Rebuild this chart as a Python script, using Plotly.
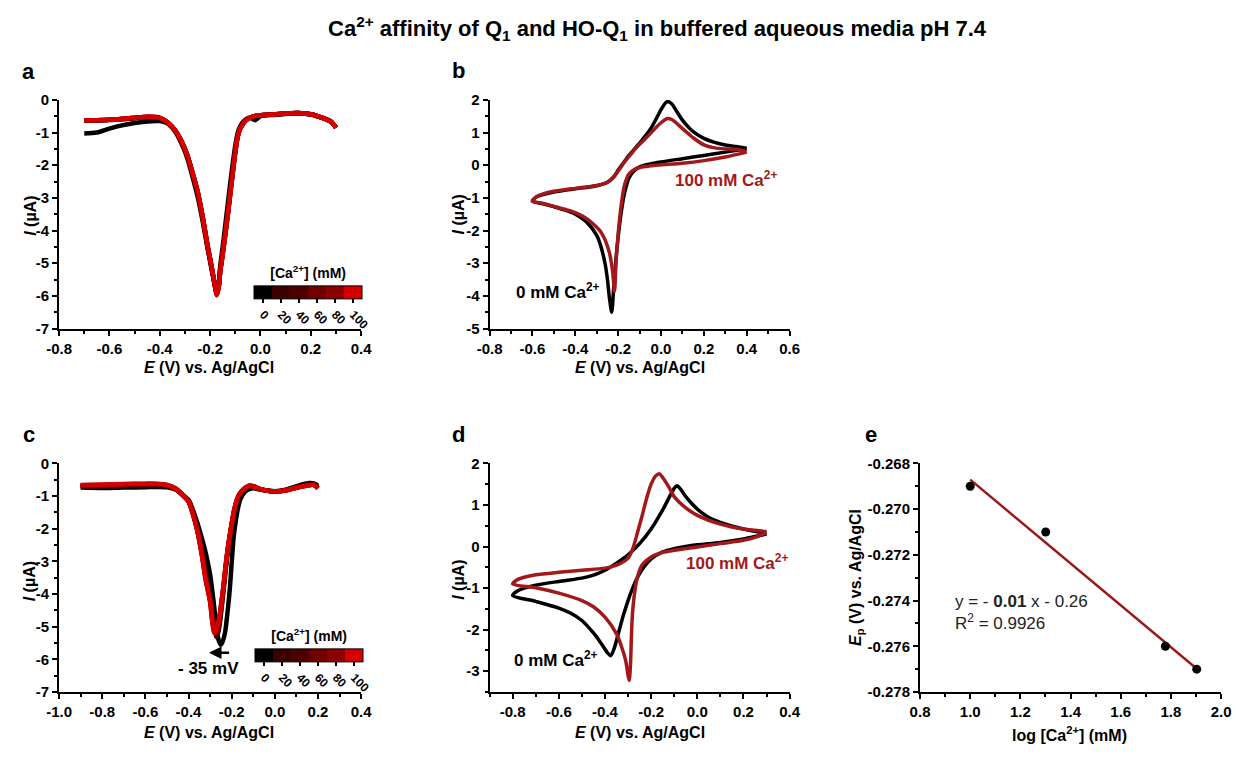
import numpy as np
import plotly.graph_objects as go

# page is 1252x760; the html body keeps its default 8px margin
PAGE_W, PAGE_H, BODY = 1252, 760, 8
W, H = PAGE_W - 2 * BODY, PAGE_H - 2 * BODY
FONT = "Liberation Sans, Arial, sans-serif"

# ---------------- concentrations and their colours ----------------
conc = [0, 20, 40, 60, 80, 100]
conc_colors = ["#000000", "#3b0000", "#4d0000", "#700000", "#8e0000", "#d40000"]
cv_red = "#a3191b"

# ---------------- panel a: SWV of Q1 ----------------
E_a = [-0.70, -0.65, -0.60, -0.55, -0.50, -0.45, -0.40, -0.37, -0.34, -0.31,
       -0.29, -0.27, -0.25, -0.23, -0.21, -0.20, -0.19, -0.18, -0.173, -0.165,
       -0.16, -0.15, -0.14, -0.13, -0.12, -0.11, -0.10, -0.09, -0.08, -0.06,
       -0.04, -0.02, 0.00, 0.05, 0.10, 0.15, 0.20, 0.25, 0.28, 0.30]
I_a_0 = [-1.03, -1.00, -0.88, -0.78, -0.71, -0.66, -0.65, -0.72, -0.96, -1.40,
         -1.80, -2.35, -2.95, -3.70, -4.55, -4.95, -5.35, -5.70, -5.85, -5.55,
         -5.10, -4.50, -3.85, -3.20, -2.55, -1.95, -1.40, -1.00, -0.80, -0.60,
         -0.55, -0.62, -0.50, -0.46, -0.43, -0.41, -0.45, -0.57, -0.67, -0.84]
I_a_20 = [-0.64, -0.63, -0.62, -0.59, -0.56, -0.53, -0.56, -0.69, -0.93, -1.34,
          -1.73, -2.26, -2.83, -3.60, -4.50, -4.90, -5.31, -5.72, -5.92, -5.64,
          -5.22, -4.68, -4.07, -3.46, -2.81, -2.16, -1.55, -1.08, -0.86, -0.63,
          -0.54, -0.50, -0.48, -0.45, -0.42, -0.40, -0.44, -0.56, -0.66, -0.85]
I_a_40 = [-0.63, -0.63, -0.61, -0.59, -0.56, -0.53, -0.56, -0.69, -0.93, -1.33,
          -1.72, -2.24, -2.81, -3.58, -4.48, -4.88, -5.30, -5.73, -5.94, -5.66,
          -5.24, -4.70, -4.10, -3.50, -2.85, -2.20, -1.58, -1.10, -0.87, -0.63,
          -0.54, -0.49, -0.47, -0.45, -0.42, -0.40, -0.44, -0.56, -0.66, -0.85]
I_a_60 = [-0.63, -0.62, -0.61, -0.58, -0.55, -0.52, -0.55, -0.68, -0.92, -1.33,
          -1.71, -2.23, -2.80, -3.57, -4.47, -4.87, -5.29, -5.73, -5.96, -5.68,
          -5.26, -4.72, -4.12, -3.52, -2.87, -2.22, -1.60, -1.11, -0.87, -0.64,
          -0.54, -0.49, -0.47, -0.45, -0.42, -0.40, -0.44, -0.56, -0.66, -0.85]
I_a_80 = [-0.62, -0.62, -0.61, -0.58, -0.55, -0.52, -0.55, -0.68, -0.92, -1.32,
          -1.70, -2.22, -2.79, -3.56, -4.46, -4.86, -5.28, -5.72, -5.97, -5.69,
          -5.27, -4.74, -4.14, -3.54, -2.89, -2.24, -1.61, -1.12, -0.88, -0.64,
          -0.54, -0.49, -0.47, -0.45, -0.42, -0.40, -0.44, -0.56, -0.66, -0.85]
I_a_100 = [-0.62, -0.62, -0.61, -0.58, -0.55, -0.52, -0.55, -0.68, -0.92, -1.32,
           -1.70, -2.22, -2.78, -3.55, -4.45, -4.85, -5.28, -5.72, -5.98, -5.70,
           -5.28, -4.75, -4.15, -3.55, -2.90, -2.25, -1.62, -1.12, -0.88, -0.64,
           -0.54, -0.49, -0.47, -0.45, -0.42, -0.40, -0.44, -0.56, -0.66, -0.85]
I_a = [I_a_0, I_a_20, I_a_40, I_a_60, I_a_80, I_a_100]

# ---------------- panel b: CV of Q1 (0 and 100 mM Ca2+) ----------------
E_b_0 = [0.40, 0.30, 0.20, 0.10, 0.00, -0.05, -0.10, -0.13, -0.15, -0.17,
         -0.18, -0.19, -0.20, -0.21, -0.22, -0.23, -0.24, -0.25, -0.26, -0.28,
         -0.30, -0.35, -0.40, -0.45, -0.50, -0.55, -0.60,
         -0.58, -0.55, -0.50, -0.45, -0.40, -0.35, -0.30, -0.25, -0.22, -0.20,
         -0.17, -0.15, -0.12, -0.10, -0.07, -0.05, -0.02, 0.00, 0.02, 0.03,
         0.05, 0.07, 0.10, 0.13, 0.15, 0.20, 0.25, 0.30, 0.35, 0.40]
I_b_0 = [0.50, 0.40, 0.30, 0.20, 0.10, 0.04, -0.05, -0.20, -0.40, -0.85,
         -1.20, -1.65, -2.20, -2.85, -3.65, -4.50, -4.10, -3.50, -3.05, -2.50,
         -2.15, -1.72, -1.50, -1.37, -1.27, -1.18, -1.10,
         -0.97, -0.90, -0.82, -0.77, -0.72, -0.68, -0.63, -0.52, -0.35, -0.15,
         0.12, 0.30, 0.52, 0.68, 0.92, 1.10, 1.45, 1.70, 1.90, 1.95,
         1.88, 1.68, 1.38, 1.15, 1.03, 0.82, 0.70, 0.62, 0.57, 0.52]
E_b_100 = [0.40, 0.30, 0.20, 0.10, 0.00, -0.05, -0.10, -0.13, -0.15, -0.17,
           -0.18, -0.19, -0.20, -0.21, -0.217, -0.225, -0.24, -0.26, -0.28, -0.30,
           -0.35, -0.40, -0.45, -0.50, -0.55, -0.60,
           -0.58, -0.55, -0.50, -0.45, -0.40, -0.35, -0.30, -0.25, -0.22, -0.20,
           -0.17, -0.15, -0.12, -0.10, -0.07, -0.05, -0.02, 0.00, 0.02, 0.03,
           0.05, 0.07, 0.10, 0.13, 0.15, 0.20, 0.25, 0.30, 0.35, 0.40]
I_b_100 = [0.40, 0.25, 0.14, 0.06, 0.01, -0.02, -0.07, -0.15, -0.27, -0.60,
           -0.95, -1.45, -2.10, -3.00, -3.86, -3.30, -2.70, -2.30, -2.05, -1.90,
           -1.62, -1.45, -1.35, -1.26, -1.17, -1.10,
           -0.96, -0.88, -0.80, -0.75, -0.71, -0.67, -0.62, -0.52, -0.36, -0.18,
           0.10, 0.26, 0.50, 0.64, 0.83, 0.97, 1.18, 1.30, 1.40, 1.43,
           1.40, 1.30, 1.12, 0.95, 0.84, 0.62, 0.53, 0.50, 0.49, 0.42]

# ---------------- panel c: SWV of HO-Q1 ----------------
E_c = [-0.90, -0.80, -0.70, -0.60, -0.55, -0.50, -0.46, -0.43, -0.40, -0.38,
       -0.36, -0.34, -0.32, -0.30, -0.29, -0.28, -0.27, -0.26, -0.25, -0.24,
       -0.23, -0.22, -0.21, -0.20, -0.19, -0.18, -0.17, -0.16, -0.14, -0.12,
       -0.10, -0.07, -0.04, 0.00, 0.04, 0.08, 0.12, 0.16, 0.18, 0.20]
I_c_0 = [-0.74, -0.75, -0.74, -0.73, -0.72, -0.73, -0.80, -0.95, -1.12, -1.42,
         -1.80, -2.25, -2.75, -3.40, -3.90, -4.45, -5.10, -5.42, -5.55, -5.42,
         -5.15, -4.60, -3.95, -3.05, -2.20, -1.72, -1.35, -1.10, -0.88, -0.79,
         -0.76, -0.80, -0.83, -0.85, -0.82, -0.74, -0.66, -0.60, -0.61, -0.68]
I_c_20 = [-0.71, -0.71, -0.70, -0.69, -0.68, -0.70, -0.79, -0.95, -1.15, -1.50,
          -1.97, -2.58, -3.30, -4.00, -4.50, -5.00, -5.32, -5.12, -4.65, -4.05,
          -3.42, -2.82, -2.32, -1.90, -1.53, -1.25, -1.06, -0.94, -0.80, -0.72,
          -0.72, -0.79, -0.83, -0.85, -0.83, -0.76, -0.69, -0.63, -0.63, -0.72]
I_c_40 = [-0.69, -0.69, -0.67, -0.66, -0.66, -0.68, -0.78, -0.95, -1.16, -1.52,
          -2.01, -2.66, -3.45, -4.12, -4.65, -5.10, -5.25, -5.00, -4.52, -3.95,
          -3.35, -2.76, -2.29, -1.88, -1.51, -1.23, -1.04, -0.92, -0.78, -0.70,
          -0.71, -0.79, -0.83, -0.86, -0.84, -0.77, -0.70, -0.65, -0.65, -0.75]
I_c_60 = [-0.68, -0.67, -0.65, -0.64, -0.64, -0.67, -0.77, -0.95, -1.16, -1.53,
          -2.03, -2.70, -3.52, -4.18, -4.74, -5.15, -5.18, -4.90, -4.45, -3.90,
          -3.30, -2.73, -2.27, -1.86, -1.49, -1.21, -1.03, -0.91, -0.77, -0.69,
          -0.70, -0.78, -0.83, -0.86, -0.84, -0.78, -0.71, -0.66, -0.66, -0.76]
I_c_80 = [-0.67, -0.66, -0.64, -0.63, -0.63, -0.66, -0.77, -0.95, -1.17, -1.54,
          -2.04, -2.72, -3.56, -4.22, -4.80, -5.18, -5.10, -4.85, -4.40, -3.87,
          -3.27, -2.71, -2.26, -1.85, -1.48, -1.20, -1.02, -0.90, -0.76, -0.68,
          -0.70, -0.78, -0.83, -0.86, -0.84, -0.78, -0.72, -0.67, -0.66, -0.77]
I_c_100 = [-0.66, -0.65, -0.63, -0.62, -0.62, -0.66, -0.78, -0.95, -1.17, -1.55,
           -2.05, -2.75, -3.60, -4.25, -4.85, -5.20, -5.05, -4.80, -4.35, -3.85,
           -3.25, -2.70, -2.25, -1.85, -1.48, -1.20, -1.02, -0.90, -0.76, -0.68,
           -0.70, -0.78, -0.83, -0.86, -0.84, -0.78, -0.72, -0.67, -0.66, -0.77]
I_c = [I_c_0, I_c_20, I_c_40, I_c_60, I_c_80, I_c_100]

# ---------------- panel d: CV of HO-Q1 (0 and 100 mM Ca2+) ----------------
E_d_0 = [0.30, 0.25, 0.20, 0.10, 0.00, -0.05, -0.10, -0.15, -0.20, -0.25,
         -0.28, -0.30, -0.32, -0.34, -0.36, -0.375, -0.39, -0.42, -0.45, -0.50,
         -0.55, -0.60, -0.70, -0.80,
         -0.78, -0.75, -0.70, -0.60, -0.50, -0.45, -0.40, -0.35, -0.30, -0.25,
         -0.20, -0.15, -0.12, -0.10, -0.088, -0.07, -0.05, 0.00, 0.05, 0.10,
         0.20, 0.30]
I_d_0 = [0.30, 0.24, 0.18, 0.10, 0.04, 0.00, -0.05, -0.13, -0.30, -0.65,
         -1.00, -1.30, -1.65, -2.05, -2.45, -2.63, -2.55, -2.30, -2.08, -1.78,
         -1.60, -1.48, -1.32, -1.18,
         -1.07, -1.00, -0.93, -0.84, -0.76, -0.69, -0.57, -0.40, -0.20, 0.07,
         0.42, 0.88, 1.20, 1.40, 1.46, 1.36, 1.20, 0.90, 0.70, 0.58,
         0.42, 0.32]
E_d_100 = [0.30, 0.25, 0.20, 0.10, 0.00, -0.10, -0.15, -0.20, -0.24, -0.26,
           -0.27, -0.28, -0.285, -0.29, -0.295, -0.30, -0.31, -0.33, -0.35, -0.40,
           -0.45, -0.50, -0.60, -0.70, -0.80,
           -0.78, -0.75, -0.70, -0.60, -0.50, -0.40, -0.35, -0.30, -0.28, -0.26,
           -0.24, -0.22, -0.20, -0.18, -0.165, -0.15, -0.12, -0.10, -0.05, 0.00,
           0.10, 0.20, 0.30]
I_d_100 = [0.34, 0.22, 0.15, 0.07, -0.01, -0.09, -0.14, -0.25, -0.45, -0.75,
           -1.05, -1.55, -2.10, -2.90, -3.22, -3.10, -2.75, -2.38, -2.10, -1.70,
           -1.45, -1.30, -1.12, -0.99, -0.90,
           -0.80, -0.74, -0.68, -0.62, -0.57, -0.52, -0.45, -0.28, -0.06, 0.32,
           0.72, 1.15, 1.50, 1.70, 1.75, 1.66, 1.40, 1.20, 0.93, 0.75,
           0.54, 0.42, 0.36]

# ---------------- panel e: peak potential vs log[Ca2+] ----------------
log_ca = [1.0, 1.301, 1.778, 1.903]
Ep = [-0.269, -0.271, -0.276, -0.277]

# ---------------- tick labels ----------------
xt_a = [-0.8, -0.6, -0.4, -0.2, 0.0, 0.2, 0.4]
xt_b = [-0.8, -0.6, -0.4, -0.2, 0.0, 0.2, 0.4, 0.6]
xt_c = [-1.0, -0.8, -0.6, -0.4, -0.2, 0.0, 0.2, 0.4]
xt_d = [-0.8, -0.6, -0.4, -0.2, 0.0, 0.2, 0.4]
xt_e = [0.8, 1.0, 1.2, 1.4, 1.6, 1.8, 2.0]
yt_swv = [0, -1, -2, -3, -4, -5, -6, -7]
yt_b = [2, 1, 0, -1, -2, -3, -4, -5]
yt_d = [2, 1, 0, -1, -2, -3]
yt_e = [-0.268, -0.270, -0.272, -0.274, -0.276, -0.278]


def fmt(vals, nd):
    return [f"{v:.{nd}f}" for v in vals]


def px(x):
    # page pixel -> paper fraction
    return (x - BODY) / W


def py(y):
    return 1 - (y - BODY) / H


def axis(domain, rng, vals, texts, minor_dtick, anchor):
    return dict(
        domain=domain, range=rng, anchor=anchor,
        tickmode="array", tickvals=vals, ticktext=texts,
        showline=True, linewidth=2, linecolor="black",
        ticks="outside", ticklen=5, tickwidth=1.5, tickcolor="black",
        minor=dict(ticks="outside", ticklen=3, tickwidth=1.5, tickcolor="black",
                   tick0=0, dtick=minor_dtick, showgrid=False),
        showgrid=False, zeroline=False, fixedrange=True,
        tickfont=dict(family=FONT, size=15, color="black", weight="bold"),
    )


colx = [(px(55), px(363)), (px(494), px(800)), (px(933), px(1240))]
row1 = (py(335), py(101))
row2 = (py(707), py(473))

SWV_W = 4.5
CV_W = 3.5

fig = go.Figure()

# panel a curves
for c, col, I in zip(conc, conc_colors, I_a):
    fig.add_trace(go.Scatter(x=E_a, y=I, mode="lines", xaxis="x", yaxis="y",
                             line=dict(color=col, width=SWV_W, shape="spline", smoothing=0.8),
                             name=f"{c} mM", showlegend=False))
fig.add_trace(go.Scatter(x=[None], y=[None], mode="markers", xaxis="x", yaxis="y",
                         marker=dict(color=[0], coloraxis="coloraxis"), showlegend=False))

# panel b curves
fig.add_trace(go.Scatter(x=E_b_0, y=I_b_0, mode="lines", xaxis="x2", yaxis="y2",
                         line=dict(color="black", width=CV_W, shape="spline", smoothing=0.8),
                         showlegend=False))
fig.add_trace(go.Scatter(x=E_b_100, y=I_b_100, mode="lines", xaxis="x2", yaxis="y2",
                         line=dict(color=cv_red, width=CV_W, shape="spline", smoothing=0.8),
                         showlegend=False))

# panel c curves
for c, col, I in zip(conc, conc_colors, I_c):
    fig.add_trace(go.Scatter(x=E_c, y=I, mode="lines", xaxis="x3", yaxis="y3",
                             line=dict(color=col, width=SWV_W, shape="spline", smoothing=0.8),
                             name=f"{c} mM", showlegend=False))
fig.add_trace(go.Scatter(x=[None], y=[None], mode="markers", xaxis="x3", yaxis="y3",
                         marker=dict(color=[0], coloraxis="coloraxis2"), showlegend=False))

# panel d curves
fig.add_trace(go.Scatter(x=E_d_0, y=I_d_0, mode="lines", xaxis="x4", yaxis="y4",
                         line=dict(color="black", width=CV_W, shape="spline", smoothing=0.8),
                         showlegend=False))
fig.add_trace(go.Scatter(x=E_d_100, y=I_d_100, mode="lines", xaxis="x4", yaxis="y4",
                         line=dict(color=cv_red, width=CV_W, shape="spline", smoothing=0.8),
                         showlegend=False))

# panel e: linear fit and data points
slope, intercept = np.polyfit(log_ca, Ep, 1)
x_fit = [min(log_ca), max(log_ca)]
y_fit = [slope * v + intercept for v in x_fit]
fig.add_trace(go.Scatter(x=x_fit, y=y_fit, mode="lines", xaxis="x5", yaxis="y5",
                         line=dict(color="#9b1b1b", width=2.5), showlegend=False))
fig.add_trace(go.Scatter(x=log_ca, y=Ep, mode="markers", xaxis="x5", yaxis="y5",
                         marker=dict(color="black", size=9), showlegend=False))

# discrete colour scale for the concentration bars
cs = []
for i, col in enumerate(conc_colors):
    cs.append([i / len(conc_colors), col])
    cs.append([(i + 1) / len(conc_colors), col])


def cbar(xc, ytop):
    return dict(
        cmin=-10, cmax=110, colorscale=cs, showscale=True,
        colorbar=dict(
            orientation="h", x=px(xc), xanchor="center", y=py(ytop), yanchor="top",
            len=108, lenmode="pixels", thickness=13, thicknessmode="pixels",
            xpad=0, ypad=0, outlinewidth=1, outlinecolor="black",
            tickmode="array", tickvals=conc, ticktext=[str(c) for c in conc],
            ticks="outside", ticklen=4, tickwidth=1.5, tickcolor="black",
            tickangle=45,
            tickfont=dict(family=FONT, size=12, color="black", weight="bold"),
            title=dict(text="[Ca<sup>2+</sup>] (mM)", side="top",
                       font=dict(family=FONT, size=14, color="black", weight="bold")),
        ),
    )


bold = dict(family=FONT, color="black", weight="bold")
ann = []


def label(text, x, y, size, color="black", angle=0, weight="bold"):
    ann.append(dict(text=text, x=px(x), y=py(y), xref="paper", yref="paper",
                    showarrow=False, xanchor="center", yanchor="middle", textangle=angle,
                    font=dict(family=FONT, size=size, color=color, weight=weight)))


label("Ca<sup>2+</sup> affinity of Q<sub>1</sub> and HO-Q<sub>1</sub> in buffered aqueous media pH 7.4",
      665, 28, 22)
for letter, x, y in [("a", 24, 72), ("b", 462, 71), ("c", 24, 443), ("d", 462, 443), ("e", 883, 443)]:
    label(letter, x, y, 22)

xt = "<i>E</i> (V) vs. Ag/AgCl"
yt = "<i>I</i> (µA)"
label(xt, 208, 375, 16)
label(xt, 647, 375, 16)
label(xt, 208, 748, 16)
label(xt, 647, 748, 16)
label("log [Ca<sup>2+</sup>] (mM)", 1085, 750, 16)
label(yt, 25, 220, 16, angle=-90)
label(yt, 462, 218, 16, angle=-90)
label(yt, 25, 594, 16, angle=-90)
label(yt, 462, 592, 16, angle=-90)
label("<i>E</i><sub>p</sub> (V) vs. Ag/AgCl", 868, 590, 16, angle=-90)

label("100 mM Ca<sup>2+</sup>", 735, 182, 17, color=cv_red)
label("0 mM Ca<sup>2+</sup>", 564, 297, 17)
label("100 mM Ca<sup>2+</sup>", 746, 574, 17, color=cv_red)
label("0 mM Ca<sup>2+</sup>", 562, 673, 17)

# fit equation
ann.append(dict(text="y = - <b>0.01</b> x - 0.26<br>R<sup>2</sup> = 0.9926",
                x=px(967), y=py(626), xref="paper", yref="paper", showarrow=False,
                xanchor="left", yanchor="middle", align="left",
                font=dict(family=FONT, size=17, color="#222222")))

# peak shift arrow in panel c
ann.append(dict(x=-0.305, y=-5.8, ax=-0.205, ay=-5.8, xref="x3", yref="y3",
                axref="x3", ayref="y3", showarrow=True, arrowhead=2, arrowsize=1,
                arrowwidth=2.5, arrowcolor="black", text=""))
ann.append(dict(text="- 35 mV", x=-0.307, y=-6.28, xref="x3", yref="y3", showarrow=False,
                xanchor="center", yanchor="middle", font=dict(size=17, **bold)))

fig.update_layout(
    width=W, height=H, margin=dict(l=0, r=0, t=0, b=0),
    paper_bgcolor="white", plot_bgcolor="white",
    font=dict(family=FONT, color="black"),
    showlegend=False,
    xaxis=axis(colx[0], [-0.8, 0.4], xt_a, fmt(xt_a, 1), 0.1, "y"),
    yaxis=axis(row1, [-7, 0], yt_swv, fmt(yt_swv, 0), 0.5, "x"),
    xaxis2=axis(colx[1], [-0.8, 0.6], xt_b, fmt(xt_b, 1), 0.1, "y2"),
    yaxis2=axis(row1, [-5, 2], yt_b, fmt(yt_b, 0), 0.5, "x2"),
    xaxis3=axis(colx[0], [-1.0, 0.4], xt_c, fmt(xt_c, 1), 0.1, "y3"),
    yaxis3=axis(row2, [-7, 0], yt_swv, fmt(yt_swv, 0), 0.5, "x3"),
    xaxis4=axis(colx[1], [-0.9, 0.4], xt_d, fmt(xt_d, 1), 0.1, "y4"),
    yaxis4=axis(row2, [-3.5, 2], yt_d, fmt(yt_d, 0), 0.5, "x4"),
    xaxis5=axis(colx[2], [0.8, 2.0], xt_e, fmt(xt_e, 1), 0.1, "y5"),
    yaxis5=axis(row2, [-0.278, -0.268], yt_e, fmt(yt_e, 3), 0.001, "x5"),
    coloraxis=cbar(309, 273),
    coloraxis2=cbar(310, 645),
    annotations=ann,
)

fig.write_html("out.html")
